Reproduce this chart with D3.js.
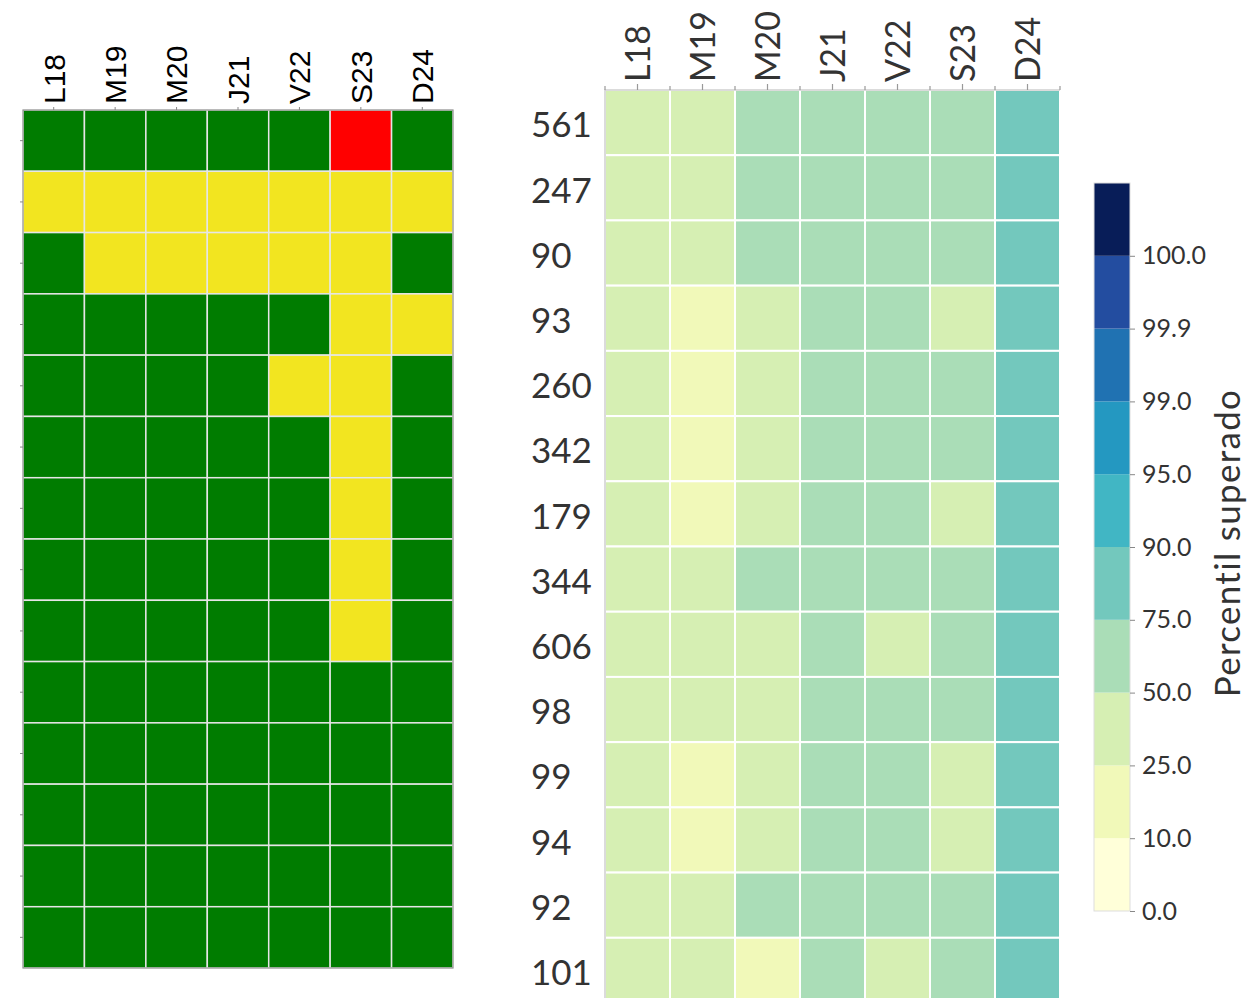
<!DOCTYPE html>
<head>
    <style>
    body { margin: 0; background: #fff; }
    .izq text { font-family: "Liberation Sans", Arial, sans-serif; fill: #000; }
    .der text, .barra text { font-family: Lato, "Open Sans", sans-serif; fill: #333; }
    .domain { display: none; }
    </style>
    <script src="https://d3js.org/d3.v7.min.js"></script>
</head>
<body>
    <svg width="1250" height="998"></svg>
    <script>

    var dias = ["L18", "M19", "M20", "J21", "V22", "S23", "D24"];
    var estaciones = ["561", "247", "90", "93", "260", "342", "179", "344", "606", "98", "99", "94", "92", "101"];

    // 0 = bien, 1 = aviso, 2 = alerta
    var estado = [
      [0, 0, 0, 0, 0, 2, 0],
      [1, 1, 1, 1, 1, 1, 1],
      [0, 1, 1, 1, 1, 1, 0],
      [0, 0, 0, 0, 0, 1, 1],
      [0, 0, 0, 0, 1, 1, 0],
      [0, 0, 0, 0, 0, 1, 0],
      [0, 0, 0, 0, 0, 1, 0],
      [0, 0, 0, 0, 0, 1, 0],
      [0, 0, 0, 0, 0, 1, 0],
      [0, 0, 0, 0, 0, 0, 0],
      [0, 0, 0, 0, 0, 0, 0],
      [0, 0, 0, 0, 0, 0, 0],
      [0, 0, 0, 0, 0, 0, 0],
      [0, 0, 0, 0, 0, 0, 0]
    ];

    // percentil superado por estacion y dia
    var percentil = [
      [38, 38, 62, 62, 62, 62, 82],
      [38, 38, 62, 62, 62, 62, 82],
      [38, 38, 62, 62, 62, 62, 82],
      [38, 18, 38, 62, 62, 38, 82],
      [38, 18, 38, 62, 62, 62, 82],
      [38, 18, 38, 62, 62, 62, 82],
      [38, 18, 38, 62, 62, 38, 82],
      [38, 38, 62, 62, 62, 62, 82],
      [38, 38, 38, 62, 38, 62, 82],
      [38, 38, 38, 62, 62, 62, 82],
      [38, 18, 38, 62, 62, 38, 82],
      [38, 18, 38, 62, 62, 38, 82],
      [38, 38, 62, 62, 62, 62, 82],
      [38, 38, 18, 62, 38, 62, 82]
    ];

    var cortes = [0, 10, 25, 50, 75, 90, 95, 99, 99.9, 100];
    var etiquetasCortes = ["0.0", "10.0", "25.0", "50.0", "75.0", "90.0", "95.0", "99.0", "99.9", "100.0"];

    var svg = d3.select("svg");

    var colorEstado = d3.scaleOrdinal()
        .domain([0, 1, 2])
        .range(["#007c00", "#f2e520", "#ff0000"]);

    var colorPct = d3.scaleThreshold()
        .domain(cortes.slice(1))
        .range(["#ffffd9", "#f1f9b9", "#d6efb3", "#aaddb7", "#73c8bd", "#41b6c4",
                "#2498c1", "#2072b2", "#234da0", "#081d58"]);

    function celdas(data) {
      var out = [];
      data.forEach(function(fila, i) {
        fila.forEach(function(v, j) { out.push({fila: i, col: j, v: v}); });
      });
      return out;
    }

    // ---- heatmap izquierdo ----
    var x1 = d3.scaleBand().domain(dias).range([23, 453]);
    var y1 = d3.scaleBand().domain(d3.range(estaciones.length)).range([110, 968]);

    var izq = svg.append("g").attr("class", "izq");

    izq.append("g").selectAll("rect")
      .data(celdas(estado))
      .enter().append("rect")
        .attr("x", function(d) { return x1(dias[d.col]); })
        .attr("y", function(d) { return y1(d.fila); })
        .attr("width", x1.bandwidth())
        .attr("height", y1.bandwidth())
        .attr("fill", function(d) { return colorEstado(d.v); })
        .attr("stroke", "#e6e6e6")
        .attr("stroke-width", 1.5);

    izq.append("rect")
        .attr("x", 23).attr("y", 110)
        .attr("width", 430).attr("height", 858)
        .attr("fill", "none").attr("stroke", "#888").attr("stroke-width", 1);

    izq.append("g")
        .attr("transform", "translate(0,110)")
        .call(d3.axisTop(x1).tickSize(3).tickPadding(5))
        .call(function(g) {
          g.selectAll(".tick line").attr("stroke", "#888");
          g.selectAll("text")
            .attr("font-size", 30)
            .attr("transform", "rotate(-90)")
            .attr("text-anchor", "start")
            .attr("x", 6).attr("y", 0).attr("dy", "0.36em");
        });

    izq.append("g")
        .attr("transform", "translate(23,0)")
        .call(d3.axisLeft(y1).tickSize(3).tickFormat(""))
        .call(function(g) { g.selectAll(".tick line").attr("stroke", "#888"); });

    // ---- heatmap derecho ----
    var x2 = d3.scaleBand().domain(dias).range([605, 1060]);
    var y2 = d3.scaleBand().domain(estaciones).range([90, 1003]);

    var der = svg.append("g").attr("class", "der");

    der.append("g").selectAll("rect")
      .data(celdas(percentil))
      .enter().append("rect")
        .attr("x", function(d) { return x2(dias[d.col]); })
        .attr("y", function(d) { return y2(estaciones[d.fila]); })
        .attr("width", x2.bandwidth())
        .attr("height", y2.bandwidth())
        .attr("fill", function(d) { return colorPct(d.v); })
        .attr("stroke", "#fff")
        .attr("stroke-width", 2);

    der.append("path")
        .attr("d", "M605,1003V90H1060")
        .attr("fill", "none").attr("stroke", "#d0d0d0").attr("stroke-width", 1.5);

    // ticks menores en los bordes de celda
    der.append("g").selectAll("line")
      .data(dias.map(function(d) { return x2(d); }).concat([x2.range()[1]]))
      .enter().append("line")
        .attr("x1", function(d) { return d; }).attr("x2", function(d) { return d; })
        .attr("y1", 90).attr("y2", 86)
        .attr("stroke", "#999").attr("stroke-width", 1.2);

    der.append("g")
        .attr("transform", "translate(0,90)")
        .call(d3.axisTop(x2).tickSize(6).tickPadding(4))
        .call(function(g) {
          g.selectAll(".tick line").attr("stroke", "#999").attr("stroke-width", 1.2);
          g.selectAll("text")
            .attr("font-size", 34)
            .attr("transform", "rotate(-90)")
            .attr("text-anchor", "start")
            .attr("x", 8).attr("y", 0).attr("dy", "0.36em");
        });

    // etiquetas de fila alineadas a la izquierda, como en el original
    der.append("g")
        .attr("transform", "translate(605,0)")
        .call(d3.axisLeft(y2).tickSize(0).tickPadding(0))
        .call(function(g) {
          g.selectAll("text")
            .attr("font-size", 35)
            .attr("text-anchor", "start")
            .attr("x", -74)
            .attr("dy", "0.42em");
        });

    // ---- barra de color ----
    var yb = d3.scaleLinear().domain([0, cortes.length]).range([911, 183]);
    var barra = svg.append("g").attr("class", "barra");

    barra.selectAll("rect")
      .data(colorPct.range())
      .enter().append("rect")
        .attr("x", 1094)
        .attr("y", function(d, i) { return yb(i + 1); })
        .attr("width", 36)
        .attr("height", function(d, i) { return yb(i) - yb(i + 1); })
        .attr("fill", function(d) { return d; });

    barra.append("rect")
        .attr("x", 1094).attr("y", 183).attr("width", 36).attr("height", 728)
        .attr("fill", "none").attr("stroke", "#ddd").attr("stroke-width", 1);

    barra.append("g")
        .attr("transform", "translate(1130,0)")
        .call(d3.axisRight(yb)
            .tickValues(d3.range(cortes.length))
            .tickFormat(function(i) { return etiquetasCortes[i]; })
            .tickSize(5).tickPadding(7))
        .call(function(g) {
          g.selectAll(".tick line").attr("stroke", "#888");
          g.selectAll("text").attr("font-size", 25).attr("fill", "#444");
        });

    barra.append("text")
        .attr("transform", "translate(1228,543) rotate(-90)")
        .attr("text-anchor", "middle")
        .attr("dy", "0.35em")
        .attr("font-size", 35)
        .attr("letter-spacing", 1.3)
        .text("Percentil superado");

    </script>
</body>
